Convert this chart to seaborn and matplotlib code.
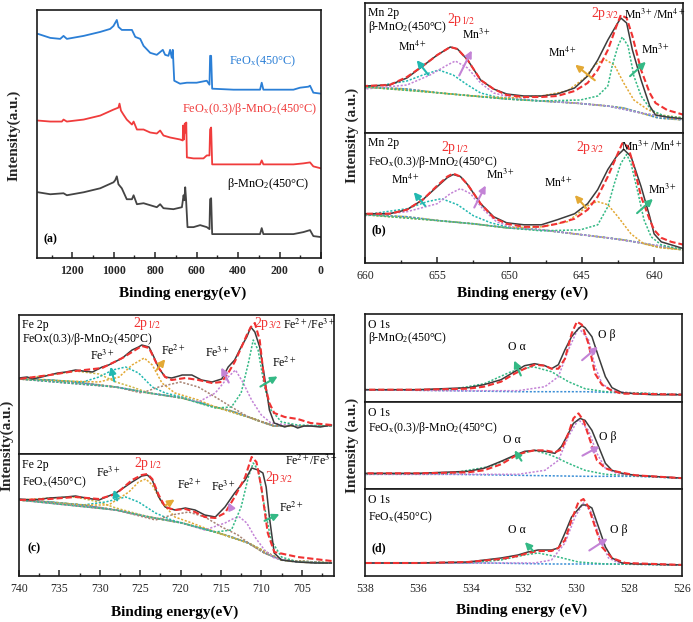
import matplotlib.pyplot as plt
import seaborn as sns

# ---------------------------------------------------------------- data
# (a) survey spectra, binding energy (eV) and intensity (a.u.)
srv_feox_e = [1365, 1306, 1258, 1242, 1226, 1145, 1065, 1017, 1001, 993, 985, 977, 961, 937, 912, 896,
              872, 856, 824, 792, 763, 752, 736, 728, 720, 715, 708, 680, 647, 600, 551, 538, 535, 530,
              525, 422, 294, 286, 278, 133, 101, 61, 53, 37, 0]
srv_feox = [225, 221, 220, 223, 220, 223, 227, 230, 233, 236, 239, 232, 229, 229, 229, 222,
            220, 213, 206, 204, 209, 204, 203, 209, 201, 209, 178, 175, 176, 176, 178, 174, 203, 203,
            170, 169, 169, 176, 169, 169, 171, 172, 173, 166, 165]
srv_mix_e = [1365, 1306, 1250, 1242, 1226, 1145, 1065, 1001, 977, 972, 965, 953, 937, 912, 904, 888,
             856, 824, 792, 776, 760, 728, 680, 667, 665, 661, 657, 653, 650, 647, 615, 567, 551, 538,
             535, 530, 525, 422, 294, 286, 278, 133, 85, 53, 37, 0]
srv_mix = [138, 137, 137, 139, 137, 139, 143, 149, 151, 155, 148, 144, 139, 134, 137, 129,
           129, 126, 125, 128, 123, 121, 119, 118, 133, 119, 135, 126, 136, 101, 100, 100, 103, 103,
           129, 131, 94, 94, 94, 98, 94, 94, 95, 96, 92, 90]
srv_mno2_e = [1365, 1306, 1242, 1226, 1145, 1065, 1001, 993, 985, 977, 961, 937, 912, 904, 888, 856,
              824, 792, 776, 760, 712, 671, 663, 659, 655, 651, 644, 615, 583, 551, 538, 535, 530,
              525, 422, 294, 286, 278, 133, 85, 53, 37, 0]
srv_mno2 = [66, 64, 65, 63, 66, 70, 76, 78, 82, 74, 70, 59, 59, 63, 54, 55,
            53, 51, 54, 50, 49, 51, 63, 58, 71, 59, 31, 31, 33, 31, 29, 59, 60,
            24, 24, 24, 30, 24, 24, 26, 28, 22, 21]

# (b) Mn 2p, beta-MnO2 (upper)
mn1_env_e = [660.0, 658.3, 657.1, 656.0, 655.0, 654.1, 653.6, 652.9, 652.0, 651.1, 650.2, 649.0, 647.8,
             646.7, 645.5, 644.6, 643.9, 643.2, 642.6, 642.3, 641.9, 641.5, 640.9, 640.3, 639.9, 639.1, 637.9]
mn1_env = [47, 48, 55, 67, 78, 86, 84, 73, 53, 44, 39, 37, 37,
           39, 45, 57, 73, 93, 108, 115, 110, 83, 53, 27, 18, 16, 14]
mn1_fit = [47, 48, 56, 67, 78, 86, 84, 73, 53, 44, 38, 36, 36,
           37, 42, 50, 63, 83, 107, 118, 115, 97, 63, 40, 30, 23, 18]
mn1_bg_e = [660.0, 657.1, 654.8, 652.5, 650.2, 647.8, 645.5, 643.2, 642.1, 640.9, 639.7, 637.9]
mn1_bg = [46, 44, 40, 37, 34, 32, 30, 27, 25, 20, 15, 13]
mn1_p4a_e = [660.0, 657.1, 656.0, 654.9, 653.9, 652.9, 652.0, 650.9, 647.8, 645.5, 643.2, 640.9, 637.9]
mn1_p4a = [45, 52, 58, 63, 58, 48, 40, 36, 32, 30, 27, 20, 13]
mn1_p3a_e = [660.0, 657.1, 655.5, 654.3, 653.75, 652.9, 652.0, 651.1, 649.7, 647.8, 645.5, 643.2, 640.9, 637.9]
mn1_p3a = [44, 48, 58, 68, 72, 65, 50, 40, 35, 32, 30, 27, 20, 13]
mn1_p4b_e = [660.0, 654.8, 652.5, 650.2, 647.8, 646.0, 644.8, 644.1, 643.45, 642.75, 642.1, 641.4, 640.4,
             639.5, 637.9]
mn1_p4b = [46, 40, 37, 35, 37, 42, 55, 68, 74, 68, 50, 33, 23, 18, 15]
mn1_p3b_e = [660.0, 654.8, 652.5, 650.2, 647.8, 645.1, 643.9, 643.2, 642.9, 642.5, 642.2, 641.8, 641.4,
             640.9, 640.2, 639.3, 637.9]
mn1_p3b = [46, 40, 37, 34, 32, 33, 37, 47, 67, 87, 96, 87, 57, 37, 23, 17, 15]

# (b) Mn 2p, FeOx(0.3)/beta-MnO2 (lower)
mn2_env_e = [660.0, 658.3, 657.1, 656.0, 655.0, 654.3, 653.9, 653.4, 652.9, 652.0, 651.1, 650.2, 649.0,
             647.8, 646.7, 645.5, 644.6, 643.9, 643.2, 642.6, 642.1, 641.6, 640.9, 640.3, 640.0, 639.5,
             638.8, 637.9]
mn2_env = [49, 49, 53, 63, 76, 85, 88, 86, 78, 59, 46, 40, 38,
           38, 43, 49, 59, 73, 93, 106, 113, 106, 76, 46, 29, 21, 18, 14]
mn2_fit_e = [660.0, 658.3, 657.1, 656.0, 655.0, 654.3, 653.9, 653.4, 652.9, 652.0, 651.1, 650.2, 649.0,
             647.8, 646.7, 645.5, 644.6, 643.9, 643.2, 642.6, 642.2, 641.8, 641.4, 640.9, 640.3, 640.0,
             639.5, 638.8, 637.9]
mn2_fit = [49, 49, 53, 63, 77, 86, 89, 86, 78, 59, 45, 39, 36,
           36, 39, 44, 53, 66, 86, 106, 119, 116, 96, 66, 43, 33, 25, 21, 18]
mn2_bg_e = [660.0, 657.1, 654.8, 652.5, 650.2, 647.8, 645.5, 643.2, 642.1, 640.9, 639.7, 637.9]
mn2_bg = [48, 46, 42, 39, 35, 33, 29, 25, 23, 20, 16, 13]
mn2_p4a_e = [660.0, 657.1, 655.7, 654.7, 653.6, 652.5, 651.3, 650.2, 647.8, 645.5, 643.2, 640.9, 637.9]
mn2_p4a = [48, 54, 61, 64, 58, 47, 40, 36, 33, 29, 25, 20, 13]
mn2_p3a_e = [660.0, 657.1, 655.0, 654.1, 653.4, 652.7, 651.8, 650.9, 649.7, 647.8, 645.5, 643.2, 640.9, 637.9]
mn2_p3a = [47, 51, 59, 69, 74, 69, 53, 41, 35, 33, 29, 25, 20, 13]
mn2_p4b_e = [660.0, 654.8, 652.5, 650.2, 647.8, 646.0, 645.1, 644.4, 643.9, 643.2, 642.5, 641.6, 640.7,
             639.5, 637.9]
mn2_p4b = [48, 42, 39, 35, 36, 41, 51, 59, 61, 58, 46, 29, 19, 15, 13]
mn2_p3b_e = [660.0, 654.8, 652.5, 650.2, 647.8, 645.1, 643.9, 643.2, 642.75, 642.3, 641.9, 641.6, 641.1,
             640.7, 640.2, 639.5, 637.9]
mn2_p3b = [48, 42, 39, 35, 32, 33, 38, 56, 79, 99, 108, 99, 69, 43, 26, 18, 13]

# (c) Fe 2p, FeOx(0.3)/beta-MnO2 (upper)
fe1_env_e = [740.0, 739.0, 738.3, 737.2, 736.2, 735.2, 734.2, 733.0, 732.1, 730.9, 729.7, 728.9, 728.4,
             727.2, 726.0, 725.2, 724.8, 723.9, 723.3, 722.7, 721.9, 721.1, 720.2, 719.8, 718.6, 717.4,
             716.1, 715.3, 714.9, 714.1, 713.3, 712.5, 711.8, 711.3, 710.8, 710.2, 709.6, 709.0, 708.4,
             707.1, 706.3, 705.5, 704.7, 703.9, 702.7, 701.3]
fe1_env = [76, 77, 75, 77, 79, 81, 82, 84, 83, 82, 87, 89, 91,
           96, 104, 107, 109, 107, 97, 86, 77, 76, 78, 79, 79, 74,
           72, 74, 75, 87, 94, 107, 117, 127, 122, 107, 77, 44, 31,
           27, 29, 26, 28, 28, 27, 29]
fe1_fit_e = [740.0, 736.2, 733.0, 729.7, 727.2, 726.0, 724.8, 723.9, 723.3, 722.7, 721.9, 721.1, 719.4,
             717.8, 716.1, 714.9, 714.1, 713.3, 712.5, 711.8, 711.3, 710.8, 710.2, 709.6, 709.0, 708.4,
             707.1, 705.5, 703.9, 701.3]
fe1_fit = [75, 79, 83, 86, 96, 102, 108, 106, 96, 86, 77, 74, 76,
           74, 71, 72, 81, 92, 106, 119, 127, 131, 114, 71, 51, 41,
           37, 35, 31, 29]
fe1_bg_e = [740.0, 736.2, 732.1, 728.0, 723.9, 719.8, 715.7, 713.7, 711.6, 709.6, 708.4, 705.5, 701.3]
fe1_bg = [75, 74, 71, 67, 61, 56, 47, 43, 37, 31, 28, 28, 28]
fe1_sat1_e = [740.0, 736.2, 733.0, 730.1, 728.0, 726.0, 723.9, 719.8, 715.7, 711.6, 708.4, 701.3]
fe1_sat1 = [75, 79, 83, 80, 72, 67, 61, 56, 47, 37, 28, 28]
fe1_f3a_e = [740.0, 736.2, 732.1, 730.1, 728.4, 726.8, 725.2, 723.5, 721.9, 719.8, 715.7, 711.6, 708.4, 701.3]
fe1_f3a = [75, 74, 72, 77, 84, 87, 81, 67, 61, 57, 47, 37, 28, 28]
fe1_f2a_e = [740.0, 734.2, 730.1, 727.6, 726.0, 724.5, 723.5, 722.3, 720.7, 717.8, 715.7, 711.6, 708.4, 701.3]
fe1_f2a = [75, 73, 72, 77, 89, 96, 89, 71, 61, 54, 47, 37, 28, 28]
fe1_sat2_e = [740.0, 728.0, 724.8, 722.7, 720.0, 717.8, 715.7, 713.7, 711.6, 708.4, 701.3]
fe1_sat2 = [75, 67, 61, 67, 72, 67, 57, 47, 37, 28, 28]
fe1_f3b_e = [740.0, 728.0, 723.9, 719.8, 717.8, 715.7, 714.1, 713.2, 712.3, 711.2, 710.0, 708.8, 705.5, 701.3]
fe1_f3b = [75, 67, 61, 56, 52, 61, 77, 84, 72, 54, 39, 31, 28, 28]
fe1_f2b_e = [740.0, 728.0, 723.9, 719.8, 715.7, 713.7, 712.5, 711.6, 711.0, 710.4, 709.6, 708.8, 707.5,
             705.5, 701.3]
fe1_f2b = [75, 67, 61, 56, 46, 47, 61, 91, 114, 104, 67, 44, 32, 29, 28]

# (c) Fe 2p, FeOx (lower)
fe2_env_e = [740.0, 738.3, 736.2, 734.2, 733.0, 731.7, 730.1, 728.0, 726.0, 724.8, 724.1, 723.5, 722.7,
             721.9, 720.7, 719.4, 718.2, 717.0, 715.7, 714.5, 713.3, 712.0, 711.2, 710.4, 709.8, 709.4,
             709.0, 708.4, 707.5, 705.5, 703.4, 701.3]
fe2_env = [77, 76, 78, 79, 80, 78, 76, 83, 94, 100, 101, 96, 79,
           69, 66, 68, 66, 61, 59, 69, 83, 96, 108, 106, 103, 89,
           59, 23, 16, 14, 13, 13]
fe2_fit_e = [740.0, 736.2, 733.0, 730.1, 728.0, 726.0, 724.8, 724.1, 723.5, 722.7, 721.9, 720.7, 719.4,
             718.2, 717.0, 715.7, 714.5, 713.3, 712.0, 711.2, 710.6, 710.0, 709.2, 708.4, 705.5, 701.3]
fe2_fit = [76, 77, 79, 77, 82, 96, 101, 102, 97, 81, 69, 66, 67,
           64, 59, 58, 63, 79, 99, 119, 114, 89, 43, 24, 19, 15]
fe2_bg_e = [740.0, 736.2, 732.1, 728.0, 723.9, 719.8, 715.7, 713.7, 711.6, 709.6, 707.5, 705.5, 701.3]
fe2_bg = [76, 74, 71, 66, 59, 53, 44, 39, 33, 23, 16, 14, 13]
fe2_sat1_e = [740.0, 736.2, 733.0, 730.1, 728.0, 723.9, 719.8, 715.7, 711.6, 707.5, 701.3]
fe2_sat1 = [76, 78, 79, 74, 68, 59, 53, 44, 33, 16, 13]
fe2_f3a_e = [740.0, 736.2, 732.1, 729.3, 726.8, 725.2, 723.1, 721.1, 719.8, 715.7, 711.6, 707.5, 701.3]
fe2_f3a = [76, 74, 71, 74, 79, 74, 63, 56, 53, 44, 33, 16, 13]
fe2_f2a_e = [740.0, 732.1, 728.9, 726.4, 725.2, 724.3, 723.5, 722.3, 720.7, 718.6, 715.7, 711.6, 707.5, 701.3]
fe2_f2a = [76, 71, 71, 84, 94, 97, 91, 73, 59, 53, 44, 33, 16, 13]
fe2_sat2_e = [740.0, 728.0, 723.1, 721.1, 719.0, 717.0, 714.9, 712.9, 711.6, 709.6, 707.5, 701.3]
fe2_sat2 = [76, 66, 56, 61, 64, 59, 49, 41, 33, 23, 16, 13]
fe2_f3b_e = [740.0, 728.0, 723.9, 719.8, 717.0, 714.5, 713.3, 712.7, 711.8, 710.8, 709.6, 708.4, 705.5, 701.3]
fe2_f3b = [76, 66, 59, 53, 46, 53, 58, 59, 53, 39, 26, 18, 14, 13]
fe2_f2b_e = [740.0, 728.0, 723.9, 719.8, 715.7, 713.7, 712.5, 711.6, 711.0, 710.4, 709.6, 708.8, 707.5,
             705.5, 701.3]
fe2_f2b = [76, 66, 59, 53, 44, 46, 69, 99, 113, 106, 69, 36, 19, 14, 13]

# (d) O 1s, beta-MnO2 (top)
o1_env_e = [538.0, 536.0, 534.1, 533.5, 532.85, 532.34, 531.96, 531.58, 531.19, 530.94, 530.68, 530.43,
            530.18, 529.92, 529.79, 529.67, 529.41, 529.16, 528.9, 528.65, 528.27, 527.76, 527.12, 525.9]
o1_env = [12, 12, 14, 17, 22, 30, 36, 38, 36, 33, 37, 52,
          65, 73, 76, 74, 65, 45, 25, 14, 9, 8, 7, 7]
o1_fit_e = [538.0, 536.0, 534.1, 533.5, 532.85, 532.34, 531.96, 531.58, 531.19, 530.94, 530.68, 530.43,
            530.18, 529.98, 529.79, 529.54, 529.29, 529.03, 528.65, 528.27, 527.76, 525.9]
o1_fit = [12, 12, 13, 15, 20, 28, 33, 37, 36, 33, 33, 43,
          68, 80, 77, 58, 28, 17, 11, 8, 8, 7]
o1_bg_e = [538.0, 534.76, 532.21, 529.67, 528.39, 525.9]
o1_bg = [12, 11, 10, 10, 9, 7]
o1_alpha_e = [538.0, 534.76, 533.48, 532.47, 531.64, 530.94, 530.30, 529.67, 528.9, 525.9]
o1_alpha = [12, 12, 18, 30, 35, 30, 20, 13, 10, 7]
o1_beta_e = [538.0, 534.76, 532.21, 531.19, 530.68, 530.30, 529.92, 529.54, 529.29, 529.03, 528.65,
             527.76, 525.9]
o1_beta = [12, 11, 11, 15, 25, 52, 74, 62, 35, 18, 11, 8, 7]

# (d) O 1s, FeOx(0.3)/beta-MnO2 (middle)
o2_env_e = [538.0, 536.0, 534.1, 533.5, 532.85, 532.34, 531.96, 531.58, 531.19, 530.81, 530.56, 530.30,
            530.11, 529.86, 529.67, 529.41, 529.16, 528.9, 528.65, 528.27, 527.76, 525.9]
o2_env = [16, 16, 18, 21, 28, 34, 38, 39, 38, 36, 43, 56,
          66, 71, 69, 59, 43, 26, 19, 16, 14, 11]
o2_fit_e = [538.0, 536.0, 534.1, 533.5, 532.85, 532.34, 531.96, 531.58, 531.19, 530.81, 530.56, 530.30,
            530.11, 529.92, 529.73, 529.48, 529.22, 528.9, 528.52, 527.76, 525.9]
o2_fit = [16, 16, 17, 19, 25, 33, 37, 39, 39, 37, 40, 56,
          71, 76, 69, 49, 29, 21, 18, 14, 11]
o2_bg_e = [538.0, 534.76, 532.21, 529.67, 527.76, 525.9]
o2_bg = [15, 15, 14, 13, 13, 11]
o2_alpha_e = [538.0, 534.76, 533.23, 532.21, 531.58, 530.94, 530.30, 529.67, 528.9, 525.9]
o2_alpha = [15, 16, 23, 35, 39, 34, 26, 19, 15, 11]
o2_beta_e = [538.0, 534.76, 532.21, 531.19, 530.68, 530.30, 529.92, 529.54, 529.22, 528.9, 528.39, 525.9]
o2_beta = [15, 15, 15, 19, 29, 53, 70, 59, 36, 21, 15, 11]

# (d) O 1s, FeOx (bottom)
o3_env_e = [538.0, 536.0, 534.1, 532.85, 532.21, 531.83, 531.45, 530.94, 530.68, 530.43, 530.18, 529.79,
            529.60, 529.41, 529.16, 528.9, 528.65, 528.27, 527.76, 525.9]
o3_env = [13, 13, 14, 18, 21, 24, 26, 26, 28, 43, 59, 71,
          71, 68, 49, 29, 18, 13, 12, 11]
o3_fit_e = [538.0, 536.0, 534.1, 532.85, 532.21, 531.83, 531.45, 530.94, 530.68, 530.43, 530.18, 529.92,
            529.73, 529.54, 529.29, 529.03, 528.65, 528.14, 525.9]
o3_fit = [13, 13, 14, 17, 20, 23, 25, 25, 28, 36, 56, 74,
          77, 69, 49, 29, 18, 13, 11]
o3_bg_e = [538.0, 533.48, 530.94, 528.39, 525.9]
o3_bg = [13, 13, 12, 12, 11]
o3_alpha_e = [538.0, 534.12, 532.85, 531.96, 531.45, 530.68, 529.92, 528.9, 525.9]
o3_alpha = [13, 13, 16, 21, 23, 19, 14, 12, 11]
o3_beta_e = [538.0, 531.58, 530.94, 530.43, 530.05, 529.73, 529.41, 529.09, 528.78, 528.39, 525.9]
o3_beta = [13, 13, 16, 33, 59, 73, 63, 36, 18, 13, 11]

# ---------------------------------------------------------------- style
sns.set_style("ticks")
plt.rcParams["font.family"] = ["Liberation Serif", "DejaVu Serif"]
plt.rcParams["mathtext.fontset"] = "stix"
plt.rcParams["axes.linewidth"] = 1.2

W, H = 693, 622

BLACK = "#3c3c3c"
RED = "#f03232"
CYAN = "#22b8b0"
VIOLET = "#c383d6"
ORANGE = "#e3a935"
GREEN = "#34b985"
BGBLUE = "#3c8fd6"
OLIVE = "#cdb645"
BROWN = "#a88474"

SOLID = "-"
DASH = (0, (3, 1.4))
DOT = (0, (1.4, 1.1))

FEOX = r"FeO$_\mathregular{x}$"
MNO2 = r"β-MnO$_\mathregular{2}$"

fig = plt.figure(figsize=(W / 100, H / 100), dpi=100)


def px_axes(left, top, right, bottom):
    """axes placed by its pixel box in the 693x622 canvas"""
    return fig.add_axes([left / W, 1 - bottom / H, (right - left) / W, (bottom - top) / H])


def trace(ax, e, i, color, ls=SOLID, lw=1.1):
    sns.lineplot(x=e, y=i, ax=ax, color=color, linestyle=ls, linewidth=lw,
                 estimator=None, sort=True)


def label(x, y, s, color="black", size=8.5, ha="center", weight="normal"):
    fig.text(x / W, 1 - y / H, s, color=color, fontsize=size, ha=ha, va="center",
             fontweight=weight)


def arrow(x0, y0, x1, y1, color):
    fig.add_artist(plt.matplotlib.patches.FancyArrowPatch(
        (x0 / W, 1 - y0 / H), (x1 / W, 1 - y1 / H), transform=fig.transFigure,
        arrowstyle="-|>", mutation_scale=10, color=color, lw=1.5))


def frame(ax, xlim, ylim, major=None, minor=None, bottom=False, bold=False, ticklen=4):
    ax.set_xlim(*xlim)
    ax.set_ylim(*ylim)
    ax.set_yticks([])
    ax.set_xlabel("")
    ax.set_ylabel("")
    for s in ax.spines.values():
        s.set_visible(True)
        s.set_color("#1a1a1a")
    if bottom:
        ax.set_xticks(major)
        if minor is not None:
            ax.set_xticks(minor, minor=True)
        ax.tick_params(axis="x", which="major", direction="in", length=ticklen, width=1.1,
                       labelsize=8.5, pad=5)
        ax.tick_params(axis="x", which="minor", direction="in", length=ticklen * 0.6, width=1.0)
        for t in ax.get_xticklabels():
            t.set_fontweight("bold" if bold else "normal")
    else:
        ax.set_xticks([])


# ---------------------------------------------------------------- (a) survey
ax = px_axes(37, 10, 321, 258)
trace(ax, srv_feox_e, srv_feox, "#2b7fd6", lw=1.3)
trace(ax, srv_mix_e, srv_mix, "#f03c3c", lw=1.3)
trace(ax, srv_mno2_e, srv_mno2, "#444444", lw=1.3)
frame(ax, (1370, 0), (0, 249), major=[1200, 1000, 800, 600, 400, 200, 0],
      minor=[1300, 1100, 900, 700, 500, 300, 100], bottom=True, bold=True)
label(263, 61, FEOX + "(450°C)", color="#2b7fd6", size=8.8)
label(250, 109, FEOX + "(0.3)/" + MNO2 + "(450°C)", color="#f03c3c", size=8.8)
label(268, 184, MNO2 + "(450°C)", size=8.8)
label(43, 239, "(a)", ha="left", weight="bold", size=8.5)
label(183, 293, "Binding energy(eV)", size=11, weight="bold")
fig.text(14 / W, 1 - 135 / H, "Intensity(a.u.)", rotation=90, fontsize=11, fontweight="bold",
         ha="center", va="center")


# ---------------------------------------------------------------- (b) Mn 2p
def mn_panel(ax, env_e, env, fit_e, fit, bg_e, bg, comps):
    trace(ax, bg_e, bg, OLIVE, DOT, 1.3)
    trace(ax, bg_e, bg, BGBLUE, DOT, 1.1)
    for e, i, c in comps:
        trace(ax, e, i, c, DOT, 1.1)
    trace(ax, env_e, env, BLACK, SOLID, 1.1)
    trace(ax, fit_e, fit, RED, DASH, 1.5)


ax = px_axes(365, 3, 683, 133)
mn_panel(ax, mn1_env_e, mn1_env, mn1_env_e, mn1_fit, mn1_bg_e, mn1_bg,
         [(mn1_p4a_e, mn1_p4a, CYAN), (mn1_p3a_e, mn1_p3a, VIOLET),
          (mn1_p4b_e, mn1_p4b, ORANGE), (mn1_p3b_e, mn1_p3b, GREEN)])
frame(ax, (660, 638), (0, 130))

ax = px_axes(365, 133, 683, 263)
mn_panel(ax, mn2_env_e, mn2_env, mn2_fit_e, mn2_fit, mn2_bg_e, mn2_bg,
         [(mn2_p4a_e, mn2_p4a, CYAN), (mn2_p3a_e, mn2_p3a, VIOLET),
          (mn2_p4b_e, mn2_p4b, ORANGE), (mn2_p3b_e, mn2_p3b, GREEN)])
frame(ax, (660, 638), (0, 129.3), major=[660, 655, 650, 645, 640],
      minor=[657.5, 652.5, 647.5, 642.5], bottom=True)

label(368, 13, "Mn 2p", ha="left")
label(368, 27, MNO2 + "(450°C)", ha="left")
label(461, 20, "2p$_{1/2}$", color=RED, size=10)
label(476, 35, "Mn$^{3+}$")
label(412, 47, "Mn$^{4+}$")
label(605, 13, "2p$_{3/2}$", color=RED, size=10)
label(655, 15, "Mn$^{3+}$/Mn$^{4+}$")
label(562, 53, "Mn$^{4+}$")
label(655, 50, "Mn$^{3+}$")
arrow(430, 77, 415, 58, CYAN)
arrow(458, 78, 473, 48, VIOLET)
arrow(597, 82, 573, 63, ORANGE)
arrow(628, 78, 648, 60, GREEN)

label(368, 143, "Mn 2p", ha="left")
label(455, 147, "2p$_{1/2}$", color=RED, size=10)
label(368, 162, FEOX + "(0.3)/" + MNO2 + "(450°C)", ha="left")
label(405, 180, "Mn$^{4+}$")
label(500, 175, "Mn$^{3+}$")
label(590, 147, "2p$_{3/2}$", color=RED, size=10)
label(652, 147, "Mn$^{3+}$/Mn$^{4+}$")
label(558, 183, "Mn$^{4+}$")
label(662, 190, "Mn$^{3+}$")
label(372, 230, "(b)", ha="left", weight="bold")
arrow(427, 208, 412, 190, CYAN)
arrow(473, 210, 487, 183, VIOLET)
arrow(588, 210, 573, 193, ORANGE)
arrow(635, 215, 655, 197, GREEN)
label(523, 293, "Binding energy (eV)", size=11, weight="bold")
fig.text(352 / W, 1 - 135 / H, "Intensity (a.u.)", rotation=90, fontsize=11, fontweight="bold",
         ha="center", va="center")


# ---------------------------------------------------------------- (c) Fe 2p
def fe_panel(ax, env_e, env, fit_e, fit, bg_e, bg, comps):
    trace(ax, bg_e, bg, OLIVE, DOT, 1.4)
    trace(ax, bg_e, bg, "#8a8a8a", DOT, 1.1)
    trace(ax, bg_e, bg, BGBLUE, DOT, 1.0)
    for e, i, c in comps:
        trace(ax, e, i, c, DOT, 1.1)
    trace(ax, env_e, env, BLACK, SOLID, 1.1)
    trace(ax, fit_e, fit, RED, DASH, 1.5)


ax = px_axes(19, 315, 334, 454)
fe_panel(ax, fe1_env_e, fe1_env, fe1_fit_e, fe1_fit, fe1_bg_e, fe1_bg,
         [(fe1_sat1_e, fe1_sat1, OLIVE), (fe1_f3a_e, fe1_f3a, CYAN), (fe1_f2a_e, fe1_f2a, ORANGE),
          (fe1_sat2_e, fe1_sat2, BROWN), (fe1_f3b_e, fe1_f3b, VIOLET), (fe1_f2b_e, fe1_f2b, GREEN)])
frame(ax, (740, 701), (0, 139))

ax = px_axes(19, 454, 334, 576)
fe_panel(ax, fe2_env_e, fe2_env, fe2_fit_e, fe2_fit, fe2_bg_e, fe2_bg,
         [(fe2_sat1_e, fe2_sat1, OLIVE), (fe2_f3a_e, fe2_f3a, CYAN), (fe2_f2a_e, fe2_f2a, ORANGE),
          (fe2_sat2_e, fe2_sat2, BROWN), (fe2_f3b_e, fe2_f3b, VIOLET), (fe2_f2b_e, fe2_f2b, GREEN)])
frame(ax, (740, 701), (0, 122), major=[740, 735, 730, 725, 720, 715, 710, 705],
      minor=[737.5, 732.5, 727.5, 722.5, 717.5, 712.5, 707.5, 702.5], bottom=True)

label(22, 325, "Fe 2p", ha="left")
label(22, 339, "FeOx(0.3)/" + MNO2 + "(450°C)", ha="left")
label(147, 323, "2p$_{1/2}$", color=RED, size=10)
label(173, 351, "Fe$^{2+}$")
label(102, 356, "Fe$^{3+}$")
label(217, 353, "Fe$^{3+}$")
label(268, 323, "2p$_{3/2}$", color=RED, size=10)
label(309, 325, "Fe$^{2+}$/Fe$^{3+}$")
label(284, 363, "Fe$^{2+}$")
arrow(155, 372, 167, 357, ORANGE)
arrow(115, 384, 110, 364, CYAN)
arrow(230, 385, 220, 365, VIOLET)
arrow(258, 388, 280, 375, GREEN)

label(22, 465, "Fe 2p", ha="left")
label(22, 482, FEOX + "(450°C)", ha="left")
label(148, 463, "2p$_{1/2}$", color=RED, size=10)
label(108, 473, "Fe$^{3+}$")
label(189, 485, "Fe$^{2+}$")
label(223, 487, "Fe$^{3+}$")
label(311, 461, "Fe$^{2+}$/Fe$^{3+}$")
label(279, 477, "2p$_{3/2}$", color=RED, size=10)
label(291, 508, "Fe$^{2+}$")
label(27, 548, "(c)", ha="left", weight="bold")
arrow(118, 503, 113, 487, CYAN)
arrow(163, 507, 177, 498, ORANGE)
arrow(233, 512, 227, 500, VIOLET)
arrow(262, 522, 282, 513, GREEN)
label(175, 612, "Binding energy(eV)", size=11, weight="bold")
fig.text(7 / W, 1 - 445 / H, "Intensity(a.u.)", rotation=90, fontsize=11, fontweight="bold",
         ha="center", va="center")


# ---------------------------------------------------------------- (d) O 1s
def o_panel(ax, env_e, env, fit_e, fit, bg_e, bg, a_e, a, b_e, b):
    trace(ax, bg_e, bg, BGBLUE, DOT, 1.1)
    trace(ax, a_e, a, GREEN, DOT, 1.1)
    trace(ax, b_e, b, VIOLET, DOT, 1.1)
    trace(ax, env_e, env, BLACK, SOLID, 1.1)
    trace(ax, fit_e, fit, RED, DASH, 1.5)


ax = px_axes(365, 314, 682, 401.7)
o_panel(ax, o1_env_e, o1_env, o1_fit_e, o1_fit, o1_bg_e, o1_bg,
        o1_alpha_e, o1_alpha, o1_beta_e, o1_beta)
frame(ax, (538, 526), (0, 87.7))

ax = px_axes(365, 401.7, 682, 489.3)
o_panel(ax, o2_env_e, o2_env, o2_fit_e, o2_fit, o2_bg_e, o2_bg,
        o2_alpha_e, o2_alpha, o2_beta_e, o2_beta)
frame(ax, (538, 526), (0, 87.7))

ax = px_axes(365, 489.3, 682, 576)
o_panel(ax, o3_env_e, o3_env, o3_fit_e, o3_fit, o3_bg_e, o3_bg,
        o3_alpha_e, o3_alpha, o3_beta_e, o3_beta)
frame(ax, (538, 526), (0, 86.7), major=[538, 536, 534, 532, 530, 528, 526],
      bottom=True, ticklen=0)

label(368, 325, "O 1s", ha="left")
label(368, 338, MNO2 + "(450°C)", ha="left")
label(517, 347, "O α")
label(607, 335, "O β")
arrow(522, 378, 513, 358, GREEN)
arrow(580, 362, 600, 345, VIOLET)

label(368, 413, "O 1s", ha="left")
label(368, 428, FEOX + "(0.3)/" + MNO2 + "(450°C)", ha="left")
label(512, 440, "O α")
label(608, 437, "O β")
arrow(523, 463, 513, 448, GREEN)
arrow(580, 457, 602, 445, VIOLET)

label(368, 500, "O 1s", ha="left")
label(368, 517, FEOX + "(450°C)", ha="left")
label(517, 530, "O α")
label(619, 530, "O β")
label(372, 548, "(d)", ha="left", weight="bold")
arrow(535, 553, 523, 540, GREEN)
arrow(587, 552, 610, 537, VIOLET)
label(522, 610, "Binding energy (eV)", size=11, weight="bold")
fig.text(352 / W, 1 - 445 / H, "Intensity (a.u.)", rotation=90, fontsize=11, fontweight="bold",
         ha="center", va="center")

fig.savefig("out.png", dpi=100)
